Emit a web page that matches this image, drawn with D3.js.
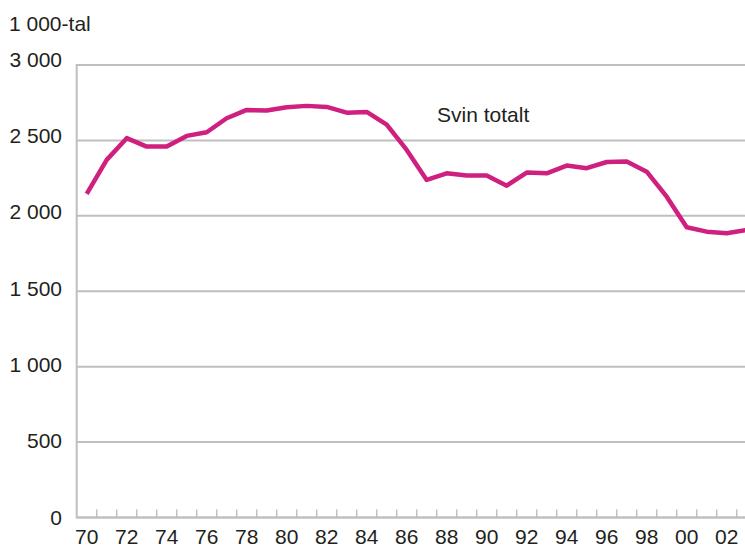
<!DOCTYPE html>
<html>
<head>
<meta charset="utf-8">
<script src="https://cdn.jsdelivr.net/npm/d3@7"></script>
<style>
  body { margin: 0; background: #fff; }
  svg text { font-family: "Liberation Sans", Arial, sans-serif; fill: #231f20; }
</style>
</head>
<body>
<div id="chart"></div>
<script>

// years 1970 - 2003
var years = d3.range(1970, 2004);

// number of pigs, 1000s
var svinTotalt = [2145, 2371, 2515, 2459, 2459, 2530, 2554, 2647, 2702, 2698,
                  2720, 2729, 2722, 2684, 2689, 2605, 2437, 2238, 2282, 2267,
                  2267, 2200, 2287, 2282, 2333, 2316, 2357, 2360, 2293, 2127,
                  1924, 1895, 1885, 1906];

var yTicks = [0, 500, 1000, 1500, 2000, 2500, 3000];
var xLabelYears = d3.range(1970, 2003, 2);

var unitLabel = '1 000-tal';
var seriesLabel = 'Svin totalt';

var width = 745, height = 549;
var margin = {top: 65, left: 76.7, bottom: 31.5};
var fontSize = '21px';

var gridColor = '#bfbfc2';
var lineColor = '#cf1f7f';

var svg = d3.select('#chart')
  .append('svg')
    .attr('width', width)
    .attr('height', height);

// band scale, one 20px slot per year (plot runs off the right edge)
var x = d3.scaleBand()
  .domain(years)
  .range([margin.left, margin.left + years.length * 20]);

var y = d3.scaleLinear()
  .domain([0, 3000])
  .range([height - margin.bottom, margin.top]);

var fmt = function(v) {
  return d3.format(',')(v).replace(/,/g, ' ');
};

// horizontal gridlines
svg.append('g')
  .selectAll('line')
  .data(yTicks.filter(function(d) { return d > 0; }))
  .enter().append('line')
    .attr('x1', margin.left)
    .attr('x2', width)
    .attr('y1', function(d) { return y(d); })
    .attr('y2', function(d) { return y(d); })
    .attr('stroke', gridColor)
    .attr('stroke-width', 2);

// y labels
svg.append('g')
  .selectAll('text')
  .data(yTicks)
  .enter().append('text')
    .attr('x', 62)
    .attr('y', function(d) { return y(d) + 7 - d / 1000 * 1.8; })
    .attr('text-anchor', 'end')
    .style('font-size', fontSize)
    .text(fmt);

svg.append('text')
  .attr('x', 9)
  .attr('y', 31)
  .style('font-size', fontSize)
  .text(unitLabel);

// left axis
svg.append('line')
  .attr('x1', margin.left).attr('x2', margin.left)
  .attr('y1', y(3000) - 1).attr('y2', y(0) + 1)
  .attr('stroke', gridColor)
  .attr('stroke-width', 2);

// bottom axis with small ticks between the years
var xAxis = svg.append('g');
xAxis.append('line')
  .attr('x1', margin.left).attr('x2', width)
  .attr('y1', y(0)).attr('y2', y(0))
  .attr('stroke', gridColor)
  .attr('stroke-width', 2.5);

xAxis.selectAll('.tick')
  .data(years.slice(1))
  .enter().append('line')
    .attr('x1', function(d) { return x(d); })
    .attr('x2', function(d) { return x(d); })
    .attr('y1', y(0))
    .attr('y2', y(0) - 8)
    .attr('stroke', gridColor)
    .attr('stroke-width', 1.5);

xAxis.selectAll('text')
  .data(xLabelYears)
  .enter().append('text')
    .attr('x', function(d) { return x(d) + x.bandwidth() / 2; })
    .attr('y', 544)
    .attr('text-anchor', 'middle')
    .style('font-size', fontSize)
    .text(function(d) { return String(d).slice(2); });

// the line
var line = d3.line()
  .x(function(d, i) { return x(years[i]) + x.bandwidth() / 2; })
  .y(function(d) { return y(d); });

svg.append('path')
  .datum(svinTotalt)
  .attr('fill', 'none')
  .attr('stroke', lineColor)
  .attr('stroke-width', 4.5)
  .attr('stroke-linejoin', 'round')
  .attr('d', line);

svg.append('text')
  .attr('x', 437)
  .attr('y', 121.5)
  .style('font-size', fontSize)
  .text(seriesLabel);

</script>
</body>
</html>
